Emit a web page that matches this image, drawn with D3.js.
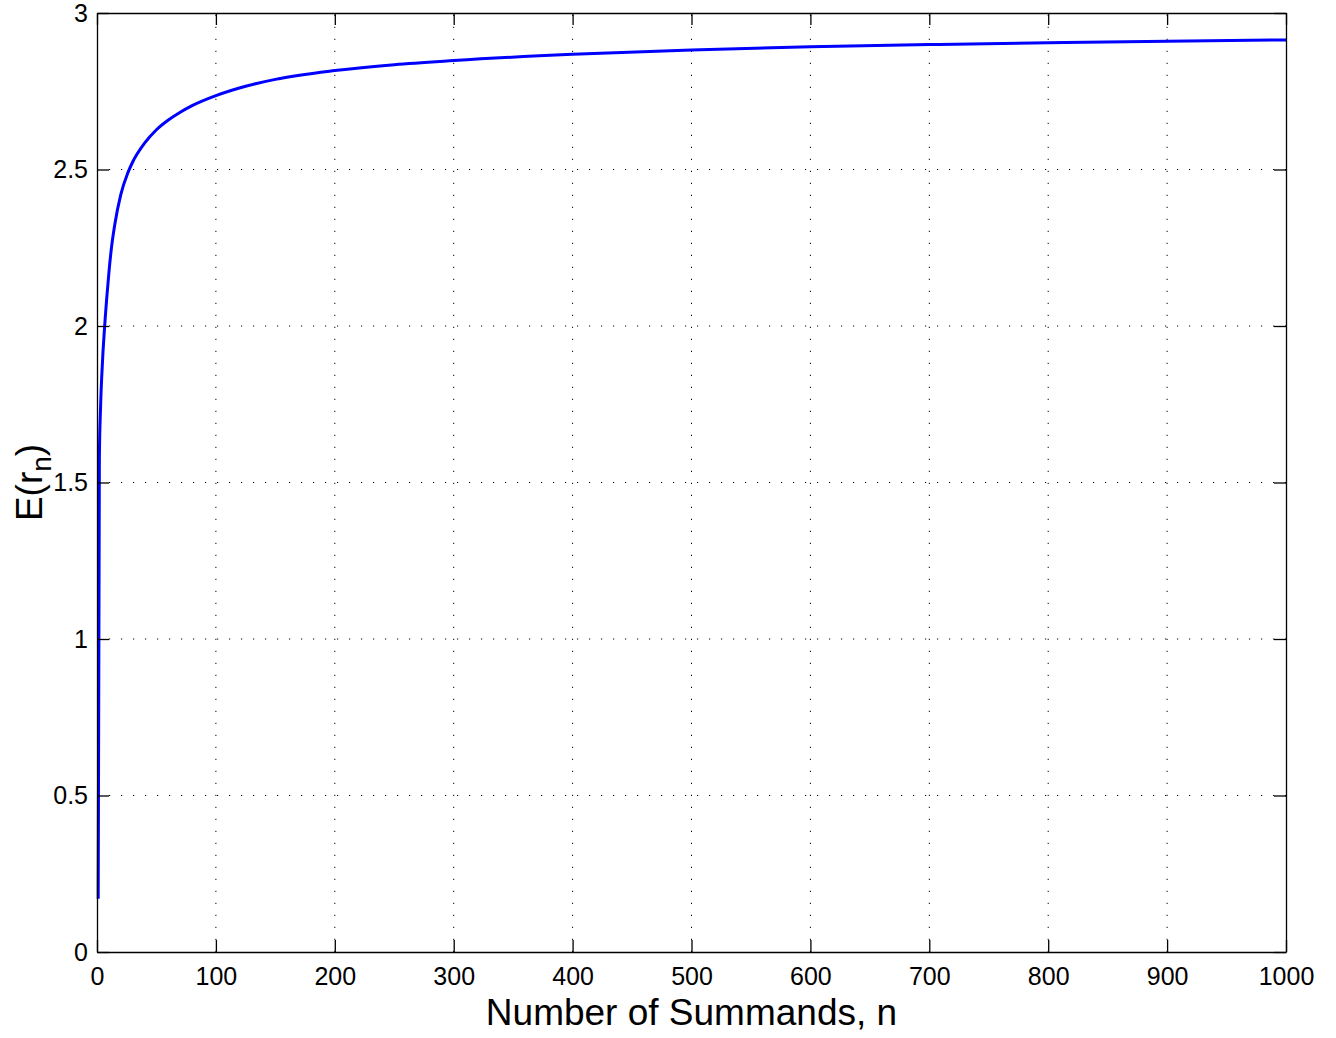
<!DOCTYPE html>
<html>
<head>
<meta charset="utf-8">
<script src="https://cdn.jsdelivr.net/npm/d3@7"></script>
<style>
  body { margin: 0; background: #fff; }
  svg { display: block; }
  .axis text { font-family: "Liberation Sans", Arial, Helvetica, sans-serif; font-size: 25px; fill: #000; }
  .axis path, .axis line { stroke: #000; stroke-width: 1.3; }
  .grid line { stroke: #000; stroke-width: 1; stroke-dasharray: 1.2, 10.8; }
  .label { font-family: "Liberation Sans", Arial, Helvetica, sans-serif; font-size: 37px; fill: #000; }
</style>
</head>
<body>
<script>
// values
var nValues = [1, 2, 3, 4, 5, 6, 7, 8, 10, 12, 15, 20, 26, 30, 40, 50, 60, 70, 80, 100, 125, 150, 200, 250, 300, 400, 500, 600, 700, 800, 900, 1000];
var expectedR = [0.17, 1.58, 1.74, 1.84, 1.915, 1.975, 2.03, 2.08, 2.17, 2.245, 2.325, 2.42, 2.49, 2.524, 2.584, 2.627, 2.658, 2.683, 2.704, 2.736, 2.766, 2.788, 2.816, 2.835, 2.848, 2.868, 2.882, 2.892, 2.899, 2.905, 2.910, 2.914];
var xTicks = [0, 100, 200, 300, 400, 500, 600, 700, 800, 900, 1000];
var yTicks = [0, 0.5, 1, 1.5, 2, 2.5, 3];

var margins = {
  top: 13,
  bottom: 86,
  left: 97,
  right: 50
}

var width = 1336;
var height = 1038;

var svg = d3.select("body").append("svg")
  .attr("width", width)
  .attr("height", height);

var plotW = width - margins.left - margins.right;
var plotH = height - margins.top - margins.bottom;

var xScale = d3.scaleLinear()
  .domain([0, 1000])
  .range([0, plotW]);

var yScale = d3.scaleLinear()
  .domain([0, 3])
  .range([plotH, 0]);

var plot = svg.append("g")
  .attr("transform", "translate(" + margins.left + "," + margins.top + ")");

// dotted grid
plot.append("g").attr("class", "grid")
  .selectAll("line")
  .data(xTicks.slice(1, -1))
  .enter()
  .append("line")
  .attr("x1", function(d) { return xScale(d); })
  .attr("x2", function(d) { return xScale(d); })
  .attr("y1", plotH)
  .attr("y2", 0);

plot.append("g").attr("class", "grid")
  .selectAll("line")
  .data(yTicks.slice(1, -1))
  .enter()
  .append("line")
  .attr("y1", function(d) { return yScale(d); })
  .attr("y2", function(d) { return yScale(d); })
  .attr("x1", 0)
  .attr("x2", plotW);

// curve
var line = d3.line()
  .x(function(d, i) { return xScale(nValues[i]); })
  .y(function(d) { return yScale(d); })
  .curve(d3.curveMonotoneX);

plot.append("path")
  .datum(expectedR)
  .attr("fill", "none")
  .attr("stroke", "#0000ff")
  .attr("stroke-width", 3)
  .attr("stroke-linejoin", "round")
  .attr("d", line);

// axes, ticks pointing inward
var bottomAxis = plot.append("g").attr("class", "axis")
  .attr("transform", "translate(0," + plotH + ")")
  .call(d3.axisBottom(xScale).tickValues(xTicks).tickSize(-12).tickSizeOuter(0).tickFormat(d3.format("d")));
bottomAxis.selectAll("text").attr("dy", "0.71em").attr("y", 15);

plot.append("g").attr("class", "axis")
  .call(d3.axisTop(xScale).tickValues(xTicks).tickSize(-12).tickSizeOuter(0).tickFormat(""));

plot.append("g").attr("class", "axis")
  .call(d3.axisLeft(yScale).tickValues(yTicks).tickSize(-12).tickSizeOuter(0).tickPadding(9).tickFormat(d3.format("")));

plot.append("g").attr("class", "axis")
  .attr("transform", "translate(" + plotW + ",0)")
  .call(d3.axisRight(yScale).tickValues(yTicks).tickSize(-12).tickSizeOuter(0).tickFormat(""));

// labels
svg.append("text")
  .attr("class", "label")
  .attr("x", margins.left + plotW / 2)
  .attr("y", 1025)
  .attr("text-anchor", "middle")
  .text("Number of Summands, n");

var yLabel = svg.append("text")
  .attr("class", "label")
  .attr("transform", "translate(42," + (margins.top + plotH / 2) + ") rotate(-90)")
  .attr("text-anchor", "middle");
yLabel.append("tspan").text("E(r");
yLabel.append("tspan").attr("font-size", "28px").attr("dy", 9).text("n");
yLabel.append("tspan").attr("dy", -9).text(")");
</script>
</body>
</html>
